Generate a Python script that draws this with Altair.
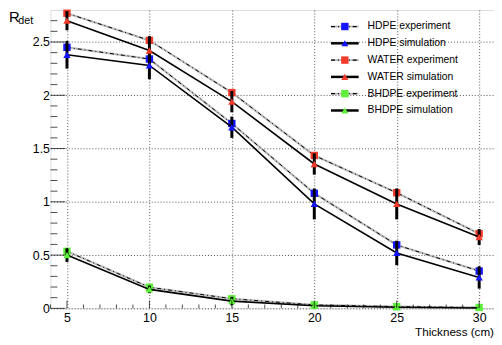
import altair as alt
import pandas as pd

# ---------------- data ----------------
thickness = [5, 10, 15, 20, 25, 30]

hdpe_exp = [2.45, 2.34, 1.735, 1.08, 0.595, 0.35]
hdpe_sim = [2.38, 2.28, 1.70, 0.98, 0.52, 0.29]
hdpe_err = [0.13, 0.13, 0.10, 0.145, 0.115, 0.105]

water_exp = [2.77, 2.515, 2.025, 1.435, 1.085, 0.70]
water_sim = [2.70, 2.42, 1.94, 1.355, 0.98, 0.67]
water_err = [0.09, 0.135, 0.10, 0.10, 0.145, 0.075]

bhdpe_exp = [0.535, 0.198, 0.09, 0.032, 0.016, 0.008]
bhdpe_sim = [0.50, 0.178, 0.068, 0.025, 0.011, 0.004]
bhdpe_err = [0.064, 0.036, 0.04, 0.01, 0.01, 0.005]

materials = ["HDPE", "WATER", "BHDPE"]
colors = ["#1414ff", "#f23a2a", "#5ef03a"]

legend_labels = ["HDPE experiment", "HDPE simulation",
                 "WATER experiment", "WATER simulation",
                 "BHDPE experiment", "BHDPE simulation"]

x_ticks = [5, 10, 15, 20, 25, 30]
y_ticks = [0, 0.5, 1, 1.5, 2, 2.5]
x_minor = [t for t in range(4, 31) if t % 5 != 0]
y_minor = [round(0.1 * i, 1) for i in range(1, 28) if i % 5 != 0]

# ---------------- layout ----------------
W, H = 449, 302
FONT = "Liberation Sans"

rows = []
for mat, col, ex, si, er in zip(materials, colors,
                                [hdpe_exp, water_exp, bhdpe_exp],
                                [hdpe_sim, water_sim, bhdpe_sim],
                                [hdpe_err, water_err, bhdpe_err]):
    for t, e, s, r in zip(thickness, ex, si, er):
        rows.append(dict(material=mat, color=col, thickness=t,
                         exp=e, sim=s, lo=s - r, hi=s + r))
df = pd.DataFrame(rows)

xs = alt.Scale(domain=[4, 30.9], nice=False, zero=False)
ys = alt.Scale(domain=[0, 2.8], nice=False, zero=False)

xaxis = alt.Axis(values=x_ticks, grid=True, gridDash=[1, 2], gridColor="#555",
                 gridWidth=1, ticks=False, tickSize=0, domain=False, format="d",
                 labelFont=FONT, labelFontSize=12.5, labelColor="black",
                 labelPadding=3, title=None)
yaxis = alt.Axis(values=y_ticks, grid=True, gridDash=[1, 2], gridColor="#555",
                 gridWidth=1, ticks=False, tickSize=0, domain=False, format="~g",
                 labelFont=FONT, labelFontSize=12.5, labelColor="black",
                 labelPadding=1, title=None)


def X(field):
    return alt.X(field, scale=xs, axis=xaxis)


def Y(field):
    return alt.Y(field, scale=ys, axis=yaxis)


base = alt.Chart(df)

exp_under = base.mark_line(color="#bdbdbd", strokeWidth=2.2).encode(
    x=X("thickness:Q"), y=Y("exp:Q"), detail="material:N")
exp_line = base.mark_line(color="black", strokeWidth=1, strokeDash=[4, 3, 1, 3]).encode(
    x=X("thickness:Q"), y=Y("exp:Q"), detail="material:N")
exp_pts = base.mark_point(shape="square", filled=True, size=56, opacity=1).encode(
    x=X("thickness:Q"), y=Y("exp:Q"), color=alt.Color("color:N", scale=None))
sim_line = base.mark_line(color="black", strokeWidth=1.6).encode(
    x=X("thickness:Q"), y=Y("sim:Q"), detail="material:N")
err = base.mark_rule(color="black", strokeWidth=3).encode(
    x=X("thickness:Q"), y=Y("lo:Q"), y2="hi:Q")
sim_pts = base.mark_point(shape="triangle-up", filled=True, size=55, opacity=1).encode(
    x=X("thickness:Q"), y=Y("sim:Q"), color=alt.Color("color:N", scale=None))

# inward ticks
xmaj = alt.Chart(pd.DataFrame({"v": x_ticks})).mark_tick(
    orient="vertical", color="black", size=8, thickness=1).encode(
    x=X("v:Q"), y=alt.value(H - 4))
xmin = alt.Chart(pd.DataFrame({"v": x_minor})).mark_tick(
    orient="vertical", color="black", size=4, thickness=1).encode(
    x=X("v:Q"), y=alt.value(H - 2))
ymaj = alt.Chart(pd.DataFrame({"v": y_ticks})).mark_tick(
    orient="horizontal", color="black", size=15, thickness=1).encode(
    y=Y("v:Q"), x=alt.value(7.5))
ymin = alt.Chart(pd.DataFrame({"v": y_minor})).mark_tick(
    orient="horizontal", color="black", size=7, thickness=1).encode(
    y=Y("v:Q"), x=alt.value(3.5))

# axis titles
r_txt = alt.Chart(pd.DataFrame({"t": ["R"]})).mark_text(
    font=FONT, fontSize=15, align="left", baseline="alphabetic", color="black").encode(
    text="t:N", x=alt.value(-42), y=alt.value(12))
det_txt = alt.Chart(pd.DataFrame({"t": ["det"]})).mark_text(
    font=FONT, fontSize=10.8, align="left", baseline="alphabetic", color="black").encode(
    text="t:N", x=alt.value(-32.5), y=alt.value(14))
x_title = alt.Chart(pd.DataFrame({"t": ["Thickness (cm)"]})).mark_text(
    font=FONT, fontSize=11.8, align="right", baseline="alphabetic", color="black").encode(
    text="t:N", x=alt.value(449), y=alt.value(330))

# legend
legend_layers = []
for i, lab in enumerate(legend_labels):
    ly = 16.7 + 17 * i
    col = colors[i // 2]
    one = pd.DataFrame({"t": [lab]})
    if i % 2 == 0:
        legend_layers.append(alt.Chart(one).mark_rule(color="#bdbdbd", strokeWidth=2).encode(
            x=alt.value(284), x2=alt.value(312), y=alt.value(ly)))
        legend_layers.append(alt.Chart(one).mark_rule(color="black", strokeWidth=1.3,
                                                      strokeDash=[4, 3, 1, 3]).encode(
            x=alt.value(284), x2=alt.value(312), y=alt.value(ly)))
        legend_layers.append(alt.Chart(one).mark_point(shape="square", filled=True, size=56,
                                                       opacity=1, color=col).encode(
            x=alt.value(298), y=alt.value(ly)))
    else:
        legend_layers.append(alt.Chart(one).mark_rule(color="black", strokeWidth=2.5).encode(
            x=alt.value(284), x2=alt.value(312), y=alt.value(ly)))
        legend_layers.append(alt.Chart(one).mark_point(shape="triangle-up", filled=True, size=50,
                                                       opacity=1, color=col).encode(
            x=alt.value(298), y=alt.value(ly)))
    legend_layers.append(alt.Chart(one).mark_text(
        font=FONT, fontSize=10.5, align="left", baseline="middle", color="black").encode(
        text="t:N", x=alt.value(321), y=alt.value(ly)))

chart = alt.layer(
    exp_under, exp_line, exp_pts, sim_line, err, sim_pts,
    xmaj, xmin, ymaj, ymin, r_txt, det_txt, x_title, *legend_layers
).properties(
    width=W, height=H,
    autosize=alt.AutoSizeParams(type="none"),
    padding={"left": 43, "top": 0, "right": 0, "bottom": 30},
).configure_view(stroke="#222", strokeWidth=1).configure(background="white")

chart.save("out.html", embed_options={"renderer": "svg", "actions": False})
